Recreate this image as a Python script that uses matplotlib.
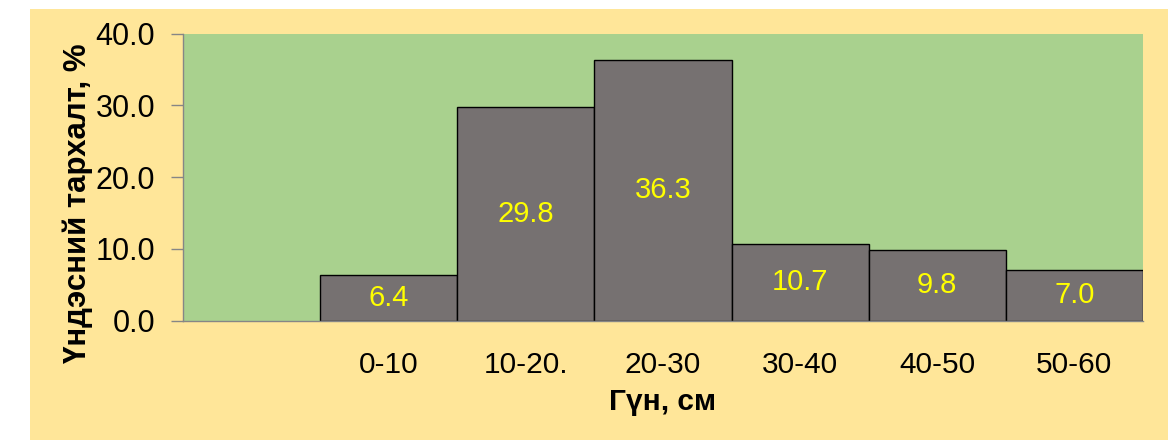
import numpy as np
import matplotlib.pyplot as plt
from matplotlib.patches import Rectangle

# depth classes (first slot on the axis is left empty, as in the original)
depth_labels = ['0-10', '10-20.', '20-30', '30-40', '40-50', '50-60']
root_share = [6.4, 29.8, 36.3, 10.7, 9.8, 7.0]
y_ticks = [0, 10, 20, 30, 40]

plt.rcParams['font.family'] = ['Liberation Sans', 'DejaVu Sans']

W, H = 1171, 440
fig = plt.figure(figsize=(W / 100, H / 100), dpi=100, facecolor='white')

# yellow chart area, kept behind the axes
bg = Rectangle((30 / W, 0), (1168 - 30) / W, (H - 9) / H,
               transform=fig.transFigure, facecolor='#FFE699',
               edgecolor='none', zorder=-10)
fig.add_artist(bg)

ax = fig.add_axes([183 / W, 1 - 320.5 / H, (1143 - 183) / W, (320.5 - 33.5) / H])
ax.set_zorder(1)
ax.set_facecolor('#A9D18E')

x = np.arange(1, len(depth_labels) + 1)
bars = ax.bar(x, root_share, width=1.0, color='#767171', edgecolor='black',
              linewidth=1.0, zorder=2)

for xi, v in zip(x, root_share):
    ax.text(xi, v / 2, f'{v:.1f}', ha='center', va='center', color='#FFFF00',
            fontsize=21, zorder=3)

ax.set_xlim(-0.5, len(depth_labels) + 0.5)
ax.set_ylim(0, 40)
ax.set_xticks(x)
ax.set_xticklabels(depth_labels, fontsize=21.5)
ax.tick_params(axis='x', length=0, pad=22)
ax.set_yticks(y_ticks)
ax.set_yticklabels([f'{t:.1f}' for t in y_ticks], fontsize=22)
ax.tick_params(axis='y', length=9, width=1.0, color='#868686', pad=11)

for s in ['top', 'right']:
    ax.spines[s].set_visible(False)
for s in ['left', 'bottom']:
    ax.spines[s].set_color('#868686')
    ax.spines[s].set_linewidth(1.0)

ax.set_xlabel('Гүн, см', fontsize=21.5, fontweight='bold')
ax.xaxis.set_label_coords(0.5, -0.235)
ax.set_ylabel('Үндэсний тархалт, %', fontsize=22.5, fontweight='bold')
ax.yaxis.set_label_coords(-0.094, 0.41)

fig.savefig('out.png', dpi=100, facecolor='white')
